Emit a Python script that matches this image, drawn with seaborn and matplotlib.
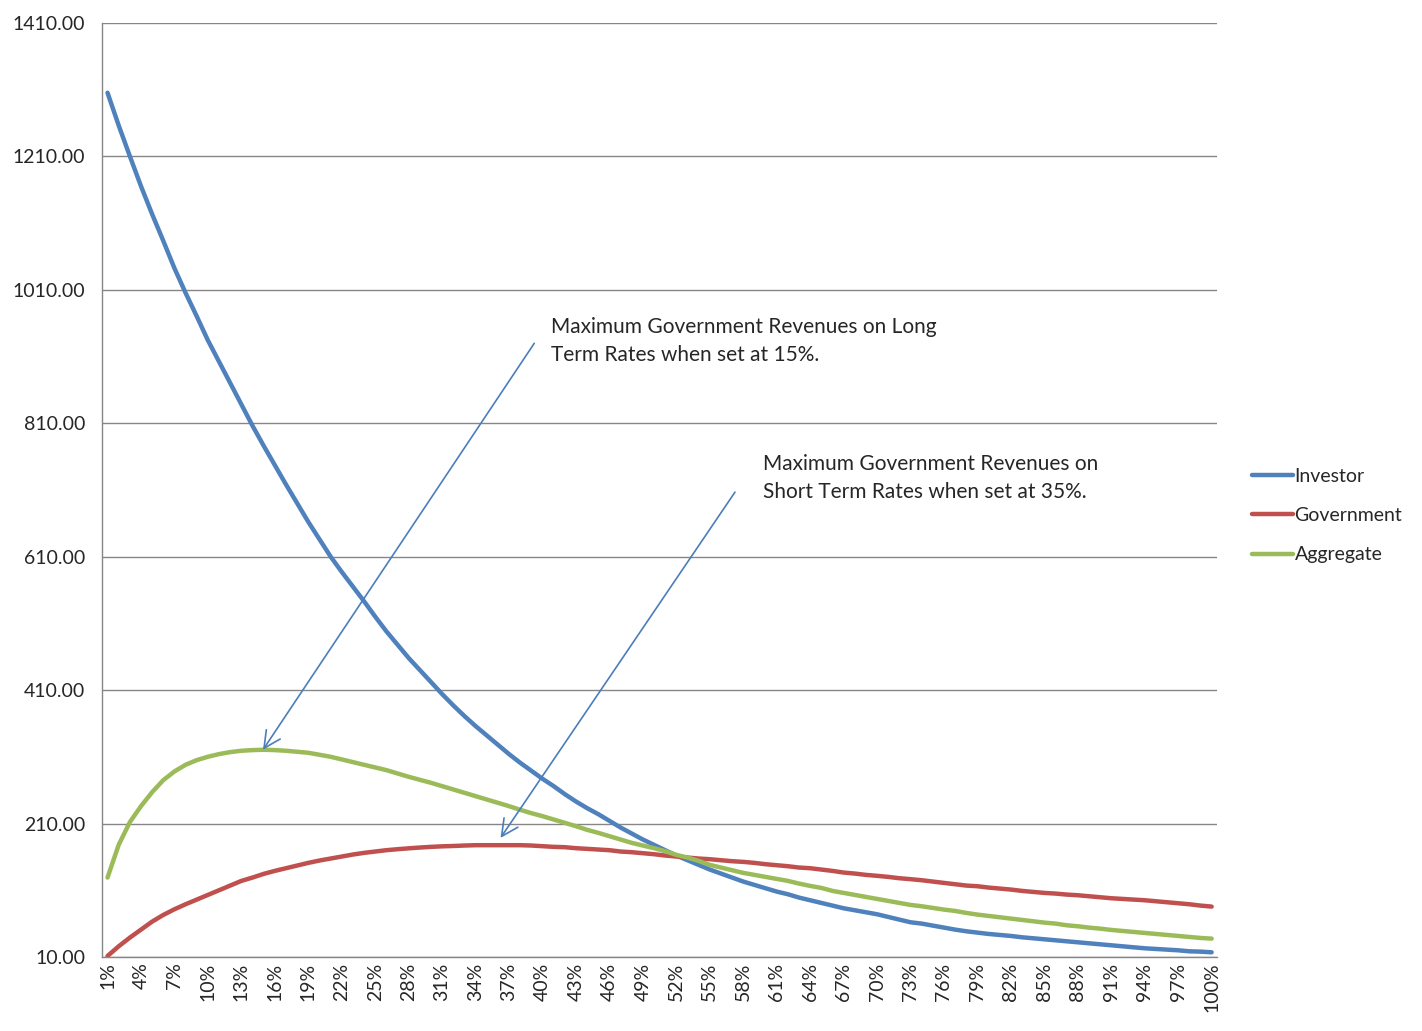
import numpy as np
import pandas as pd
import matplotlib
matplotlib.use("Agg")
import matplotlib.pyplot as plt
from matplotlib.ticker import FixedLocator
import seaborn as sns

# Данные (ставка 1%..100%)
rates = list(range(1, 101))

investor = [
    1305, 1256, 1210, 1165, 1123, 1083, 1042, 1005, 970, 934,
    902, 870, 838, 806, 776, 747, 718, 690, 662, 636,
    610, 587, 565, 543, 520, 498, 478, 458, 440, 422,
    404, 387, 371, 356, 342, 328, 314, 301, 289, 277,
    266, 254, 243, 233, 224, 214, 204, 195, 186, 178,
    170, 162, 155, 148, 141, 135, 129, 123, 118, 113,
    108, 104, 99, 95, 91, 87, 83, 80, 77, 74,
    70, 66, 62, 60, 57, 54, 51, 48.5, 46.5, 44.5,
    43, 41.5, 39.5, 38, 36.5, 35, 33.5, 32, 30.5, 29,
    27.5, 26, 24.5, 23, 22, 21, 20, 18.5, 18, 17,
]

government = [
    11.5, 26, 39, 51, 63, 73, 81.5, 89, 96, 103,
    110, 117, 124, 129, 134.5, 139, 143, 147, 151, 154.5,
    157.5, 160.5, 163.5, 166, 168, 170, 171.5, 172.8, 174, 175,
    175.8, 176.3, 177, 177.5, 177.5, 177.5, 177.5, 177.5, 177, 176,
    175, 174.5, 173, 172, 171, 170, 168, 167, 165.5, 164,
    162, 160.5, 159, 157.5, 156.5, 155, 153.5, 152.5, 151, 149,
    147.5, 146, 144, 143, 141, 139, 136.5, 135, 133, 131.6,
    130, 128, 126.6, 125, 123, 121, 119, 117, 116, 114,
    112.5, 111, 109, 107.5, 106, 105, 103.5, 102.5, 101, 99.5,
    98, 97, 96, 95, 93.5, 92, 90.5, 89, 87, 85.5,
]

aggregate = [
    129, 178, 212, 236, 257, 275, 288, 298, 305, 310,
    314, 317, 319, 320, 320.5, 320, 319, 317.5, 316, 313,
    310, 306, 302, 298, 294, 290, 285, 280, 275.5, 271,
    266, 261, 256, 251, 246, 241, 236, 230.5, 225.5, 221,
    216, 211, 206, 200.5, 196, 191, 186, 181, 177, 173,
    168.5, 163, 159, 154, 148, 144, 140, 136, 133, 130,
    127, 124, 120, 116.5, 113.5, 109, 106, 103, 100, 97,
    94, 91, 88, 86, 83.5, 81, 79, 76, 73.5, 71.5,
    69.5, 67.5, 65.5, 63.5, 61.5, 60, 57.5, 56, 54, 52.5,
    50.5, 49, 47.5, 46, 44.5, 43, 41.5, 40, 38.5, 37.5,
]

series_names = ["Investor", "Government", "Aggregate"]
colors = ["#4F81BD", "#C0504D", "#9BBB59"]

y_ticks = [10, 210, 410, 610, 810, 1010, 1210, 1410]
x_ticks = list(range(1, 101, 3))
x_labels = [f"{r}%" for r in x_ticks]

note_long = "Maximum Government Revenues on Long\nTerm Rates when set at 15%."
note_short = "Maximum Government Revenues on\nShort Term Rates when set at 35%."

# Длинный формат для seaborn
df = pd.DataFrame({
    "rate": rates * 3,
    "value": investor + government + aggregate,
    "series": sum([[n] * len(rates) for n in series_names], []),
})

sns.set_style("white")
plt.rcParams["font.family"] = ["Lato", "DejaVu Sans"]

fig, ax = plt.subplots(figsize=(14.22, 10.31), dpi=100)
fig.subplots_adjust(left=0.0717, right=0.856, top=0.978, bottom=0.0718)

sns.lineplot(data=df, x="rate", y="value", hue="series", hue_order=series_names,
             palette=colors, linewidth=3.2, ax=ax, legend=True)

ax.set_xlim(0.5, 100.5)
ax.set_ylim(10, 1410)
ax.set_yticks(y_ticks)
ax.set_yticklabels([f"{v:.2f}" for v in y_ticks], fontsize=14)
ax.set_xticks(x_ticks)
ax.set_xticklabels(x_labels, rotation=90, fontsize=14)
ax.xaxis.set_minor_locator(FixedLocator(np.arange(0.5, 101, 1)))
ax.tick_params(axis="x", which="major", length=0, pad=4)
ax.tick_params(axis="x", which="minor", length=6, color="#868686", direction="out")
ax.tick_params(axis="y", length=6, color="#868686", direction="out", pad=6)
ax.set_xlabel("")
ax.set_ylabel("")

ax.grid(axis="y", color="#868686", linewidth=1)
ax.set_axisbelow(True)
for side in ["top", "right"]:
    ax.spines[side].set_visible(False)
for side in ["left", "bottom"]:
    ax.spines[side].set_color("#868686")
    ax.spines[side].set_linewidth(1)

# Аннотации со стрелками
arrow_kw = dict(arrowstyle="->", color="#4A7EBB", lw=1.2, mutation_scale=30)
ax.annotate("", xy=(14.8, 317), xytext=(39.4, 933), arrowprops=arrow_kw)
ax.annotate("", xy=(36.1, 185), xytext=(57.4, 710), arrowprops=arrow_kw)
ax.text(40.8, 933, note_long, fontsize=15, va="center", ha="left", linespacing=1.5)
ax.text(59.8, 728, note_short, fontsize=15, va="center", ha="left", linespacing=1.5)

handles, labels = ax.get_legend_handles_labels()
ax.legend_.remove()
fig.legend(handles, labels, loc="center left", bbox_to_anchor=(0.868, 0.5),
           frameon=False, fontsize=14, handlelength=2.1, handletextpad=0.1,
           labelspacing=1.15)

fig.savefig("out.png", dpi=100)
